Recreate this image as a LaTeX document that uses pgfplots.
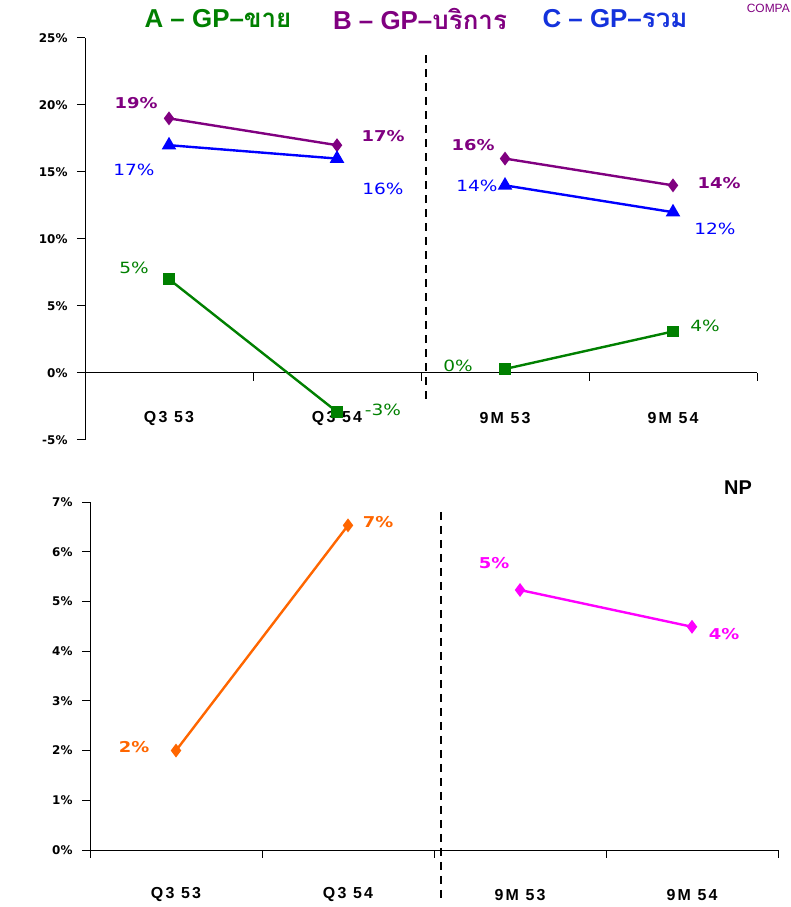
\documentclass[border=0pt]{standalone}
\usepackage{pgfplots}
\pgfplotsset{compat=1.18}
\usepackage{fontspec}
\setmainfont{Liberation Sans}
\newfontfamily\thaifont[Script=Thai]{Loma}
\newfontfamily\labfont[FakeStretch=1.2]{DejaVu Sans}
\newfontfamily\tickfont{DejaVu Sans}
\newfontfamily\catfont[LetterSpace=14]{Liberation Sans}
\definecolor{cgreen}{RGB}{0,128,0}
\definecolor{cpurple}{RGB}{128,0,128}
\definecolor{cblue}{RGB}{0,0,255}
\definecolor{ctblue}{RGB}{20,50,220}
\definecolor{corange}{RGB}{255,102,0}
\definecolor{cmag}{RGB}{255,0,255}
\begin{document}
\begin{tikzpicture}[x=1bp,y=1bp]
\useasboundingbox (0,0) rectangle (791,907);
% title
\node[font=\bfseries\fontsize{26}{28}\selectfont, text=cgreen] at (218,888) {A \textendash\ GP\textendash{\thaifont\bfseries ขาย}};
\node[font=\bfseries\fontsize{26}{28}\selectfont, text=cpurple] at (420,888) {B \textendash\ GP\textendash{\thaifont\bfseries บริการ}};
\node[font=\bfseries\fontsize{26}{28}\selectfont, text=ctblue] at (615,888) {C \textendash\ GP\textendash{\thaifont\bfseries รวม}};
\node[font=\fontsize{12}{14}\selectfont, text=cpurple, anchor=east, inner sep=0pt] at (790,899) {COMPA};
\node[font=\bfseries\fontsize{20}{22}\selectfont] at (738,419) {NP};

% top chart
\begin{axis}[at={(85bp,467bp)}, anchor=south west, scale only axis,
  width=672bp, height=402bp, xmin=-0.5, xmax=3.5, ymin=-5, ymax=25,
  axis y line=left, axis x line=middle,
  axis line style={-, line width=1pt},
  tick style={black, line width=1pt}, tick align=outside, major tick length=8bp,
  xtick={-0.5,0.5,1.5,2.5,3.5}, xticklabels={},
  ytick={-5,0,5,10,15,20,25},
  yticklabels={-5\%,0\%,5\%,10\%,15\%,20\%,25\%},
  yticklabel style={font=\tickfont\bfseries\fontsize{12}{14}\selectfont, xshift=-6bp},
  clip=false]
\draw[line width=1.3pt, dash pattern=on 8bp off 6bp] (axis cs:1.53,23.7) -- (axis cs:1.53,-2.0);
\addplot[cgreen, line width=2.4bp, mark=square*, mark size=4.5bp] coordinates {(0,7.0) (1,-2.9)};
\addplot[cgreen, line width=2.4bp, mark=square*, mark size=4.5bp] coordinates {(2,0.3) (3,3.1)};
\addplot[cpurple, line width=2.4bp, mark=diamond*, mark size=5bp] coordinates {(0,19.0) (1,17.0)};
\addplot[cpurple, line width=2.4bp, mark=diamond*, mark size=5bp] coordinates {(2,16.0) (3,14.0)};
\addplot[cblue, line width=2.4bp, mark=triangle*, mark size=6bp] coordinates {(0,17.0) (1,16.0)};
\addplot[cblue, line width=2.4bp, mark=triangle*, mark size=6bp] coordinates {(2,14.0) (3,12.0)};
\node[font=\catfont\bfseries\fontsize{16}{18}\selectfont] at (axis cs:0,-3.36) {Q3 53};
\node[font=\catfont\bfseries\fontsize{16}{18}\selectfont] at (axis cs:1,-3.36) {Q3 54};
\node[font=\catfont\bfseries\fontsize{16}{18}\selectfont] at (axis cs:2,-3.36) {9M 53};
\node[font=\catfont\bfseries\fontsize{16}{18}\selectfont] at (axis cs:3,-3.36) {9M 54};
\end{axis}

% top labels
\begin{scope}[every node/.style={font=\labfont\fontsize{15.5}{17}\selectfont}]
\node[text=cgreen] at (134,639) {5\%};
\node[text=cgreen] at (383,497) {-3\%};
\node[text=cgreen] at (458,541) {0\%};
\node[text=cgreen] at (705,581) {4\%};
\node[text=cblue] at (134,737) {17\%};
\node[text=cblue] at (383,718) {16\%};
\node[text=cblue] at (477,721) {14\%};
\node[text=cblue] at (715,678) {12\%};
\end{scope}
\begin{scope}[every node/.style={font=\labfont\bfseries\fontsize{15}{17}\selectfont}]
\node[text=cpurple] at (136,804) {19\%};
\node[text=cpurple] at (383,771) {17\%};
\node[text=cpurple] at (473,762) {16\%};
\node[text=cpurple] at (719,724) {14\%};
\node[text=corange] at (134,160) {2\%};
\node[text=corange] at (378,385) {7\%};
\node[text=cmag] at (494,344) {5\%};
\node[text=cmag] at (724,273) {4\%};
\end{scope}

% bottom chart
\begin{axis}[at={(90bp,57bp)}, anchor=south west, scale only axis,
  width=688bp, height=348bp, xmin=-0.5, xmax=3.5, ymin=0, ymax=7,
  axis y line=left, axis x line=bottom,
  axis line style={-, line width=1pt},
  tick style={black, line width=1pt}, tick align=outside, major tick length=8bp,
  xtick={-0.5,0.5,1.5,2.5,3.5}, xticklabels={},
  ytick={0,1,2,3,4,5,6,7},
  yticklabels={0\%,1\%,2\%,3\%,4\%,5\%,6\%,7\%},
  yticklabel style={font=\tickfont\bfseries\fontsize{12}{14}\selectfont, xshift=-6bp},
  clip=false]
\draw[line width=1.3pt, dash pattern=on 8bp off 6bp] (axis cs:1.54,6.8) -- (axis cs:1.54,-1.0);
\addplot[corange, line width=2.4bp, mark=diamond*, mark size=5bp] coordinates {(0,2.0) (1,6.53)};
\addplot[cmag, line width=2.4bp, mark=diamond*, mark size=5bp] coordinates {(2,5.23) (3,4.49)};
\node[font=\catfont\bfseries\fontsize{16}{18}\selectfont] at (axis cs:0,-0.9) {Q3 53};
\node[font=\catfont\bfseries\fontsize{16}{18}\selectfont] at (axis cs:1,-0.9) {Q3 54};
\node[font=\catfont\bfseries\fontsize{16}{18}\selectfont] at (axis cs:2,-0.9) {9M 53};
\node[font=\catfont\bfseries\fontsize{16}{18}\selectfont] at (axis cs:3,-0.9) {9M 54};
\end{axis}
\end{tikzpicture}
\end{document}
